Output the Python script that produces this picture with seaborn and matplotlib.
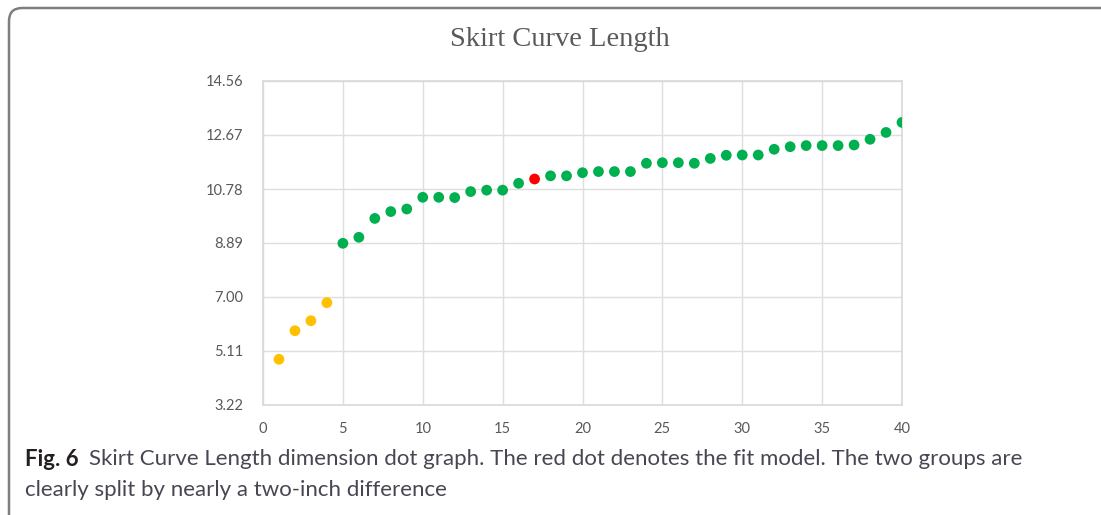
import matplotlib
matplotlib.use("Agg")
import matplotlib.pyplot as plt
import pandas as pd
import seaborn as sns
from matplotlib.patches import FancyBboxPatch

# data
sample = list(range(1, 41))
length = [4.82, 5.82, 6.17, 6.80, 8.88, 9.09, 9.75, 9.99, 10.08, 10.49,
          10.49, 10.48, 10.69, 10.74, 10.74, 10.98, 11.13, 11.24, 11.24, 11.35,
          11.39, 11.39, 11.39, 11.68, 11.70, 11.70, 11.68, 11.85, 11.96, 11.97,
          11.97, 12.17, 12.26, 12.30, 12.30, 12.30, 12.32, 12.52, 12.76, 13.11]
group = ["small"] * 4 + ["large"] * 12 + ["fit"] + ["large"] * 23
y_ticks = [3.22, 5.11, 7.00, 8.89, 10.78, 12.67, 14.56]
x_ticks = [0, 5, 10, 15, 20, 25, 30, 35, 40]

df = pd.DataFrame({"sample": sample, "length": length, "group": group})

sns.set_theme(style="whitegrid")
plt.rcParams["font.family"] = ["Lato", "DejaVu Sans"]

fig = plt.figure(figsize=(11.01, 5.15), dpi=100)
ax = fig.add_axes([263 / 1101, 1 - 405 / 515, (902 - 263) / 1101, (405 - 81) / 515])

palette = {"small": "#FFC000", "large": "#00B050", "fit": "#FF0000"}
sns.scatterplot(data=df, x="sample", y="length", hue="group", palette=palette,
                s=60, linewidth=0, legend=False, ax=ax, zorder=3)

ax.set_xlim(0, 40)
ax.set_ylim(3.22, 14.56)
ax.set_xticks(x_ticks)
ax.set_yticks(y_ticks)
ax.set_yticklabels([f"{v:.2f}" for v in y_ticks])
ax.set_xlabel("")
ax.set_ylabel("")
ax.grid(True, color="#dedede", linewidth=1.0)
for sp in ax.spines.values():
    sp.set_color("#d9d9d9")
    sp.set_linewidth(1.2)
ax.tick_params(axis="y", labelsize=10.5, labelcolor="#595959", pad=14, length=0)
ax.tick_params(axis="x", labelsize=10.5, labelcolor="#595959", pad=12, length=0)

fig.text(560 / 1101, 1 - 40 / 515, "Skirt Curve Length", ha="center", va="center",
         family="Liberation Serif", fontsize=20.5, color="#595959")

# caption
cap_y1 = 1 - 459 / 515
cap_y2 = 1 - 490 / 515
t = fig.text(25 / 1101, cap_y1, "Fig. 6", fontsize=16, fontweight="bold",
             color="#231f20", va="center")
fig.canvas.draw()
bb = t.get_window_extent()
fig.text((bb.x1 + 10) / 1101, cap_y1,
         "Skirt Curve Length dimension dot graph. The red dot denotes the fit model. The two groups are",
         fontsize=16, color="#4a4552", va="center")
fig.text(25 / 1101, cap_y2, "clearly split by nearly a two-inch difference",
         fontsize=16, color="#4a4552", va="center")

# rounded frame around the figure
frame = FancyBboxPatch((9 / 1101, -30 / 515), 1.2, 1 - 8 / 515 + 30 / 515,
                       boxstyle="round,pad=0,rounding_size=0.012",
                       transform=fig.transFigure, fill=False,
                       edgecolor="#7f7f7f", linewidth=1.8, mutation_aspect=1101 / 515)
fig.patches.append(frame)

fig.savefig("out.png", dpi=100)
